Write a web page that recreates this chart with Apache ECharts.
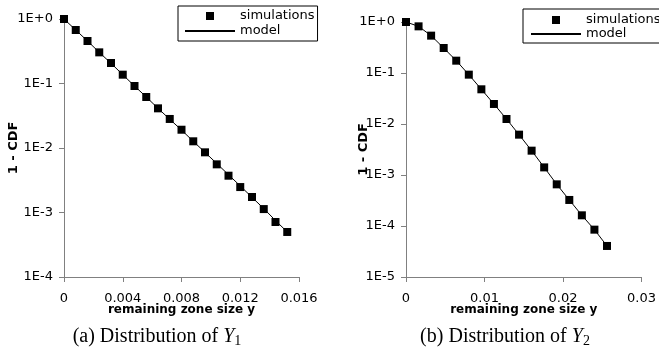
<!DOCTYPE html>
<html>
<head>
<meta charset="utf-8">
<script src="https://cdn.jsdelivr.net/npm/echarts@6/dist/echarts.min.js"></script>
<style>
html,body{margin:0;padding:0;background:#fff;}
#c{width:659px;height:362px;}
</style>
</head>
<body>
<div id="c"></div>
<script>
// ---- Data ----
const x1 = [0, 0.0008, 0.0016, 0.0024, 0.0032, 0.004, 0.0048, 0.0056, 0.0064, 0.0072,
            0.008, 0.0088, 0.0096, 0.0104, 0.0112, 0.012, 0.0128, 0.0136, 0.0144, 0.0152];
const sim1 = [1, 0.675, 0.456, 0.304, 0.208, 0.137, 0.0915, 0.0618, 0.0412, 0.0282,
              0.0192, 0.0127, 0.00857, 0.00558, 0.00372, 0.00248, 0.00174, 0.00113, 0.000713, 0.000499];
const model1 = [1, 0.675, 0.456, 0.304, 0.206, 0.137, 0.0915, 0.0618, 0.0412, 0.0279,
                0.0190, 0.0127, 0.00857, 0.00575, 0.00385, 0.00258, 0.00172, 0.00115, 0.00075, 0.000499];

const x2 = [0, 0.0016, 0.0032, 0.0048, 0.0064, 0.008, 0.0096, 0.0112, 0.0128, 0.0144,
            0.016, 0.0176, 0.0192, 0.0208, 0.0224, 0.024, 0.0256];
const sim2 = [1, 0.822, 0.54, 0.309, 0.1745, 0.0928, 0.0479, 0.0247, 0.01253, 0.00618,
              0.0030, 0.00141, 0.000656, 0.000324, 0.000162, 0.0000848, 0.0000406];
const model2 = [1, 0.822, 0.54, 0.309, 0.1745, 0.0928, 0.0479, 0.0247, 0.01253, 0.00618,
                0.0030, 0.00141, 0.000656, 0.000324, 0.000162, 0.0000848, 0.0000406];

const seriesNames = ['simulations', 'model'];
const xName = 'remaining zone size y';
const yName = '1 - CDF';
const captions = ['(a) Distribution of {it|Y}{sub|1}', '(b) Distribution of {it|Y}{sub|2}'];

// ---- Chart ----
const SANS = 'DejaVu Sans';
const AXIS = '#808080';
const chart = echarts.init(document.getElementById('c'), null, {renderer: 'canvas'});

function logFmt(v) {
  const e = Math.round(Math.log10(v));
  return '1E' + (e >= 0 ? '+' : '-') + Math.abs(e);
}
function pairs(xs, ys) { return xs.map((x, i) => [x, ys[i]]); }

function xAxis(gi, max, interval) {
  return {
    type: 'value', gridIndex: gi, min: 0, max: max, interval: interval,
    name: xName, nameLocation: 'middle', nameGap: 27, nameMoveOverlap: false,
    nameTextStyle: {fontFamily: SANS, fontWeight: 'bold', fontSize: 12, color: '#000'},
    axisLine: {onZero: false, lineStyle: {color: AXIS, width: 1}},
    axisTick: {show: true, length: 5, lineStyle: {color: AXIS}},
    axisLabel: {fontFamily: SANS, fontSize: 13, color: '#000', margin: 15},
    splitLine: {show: false}
  };
}
function yAxis(gi, min, gap, split) {
  return {
    type: 'log', logBase: 10, gridIndex: gi, min: min, max: 1, splitNumber: split,
    name: yName, nameLocation: 'middle', nameGap: gap, nameRotate: 90, nameMoveOverlap: false,
    nameTextStyle: {fontFamily: SANS, fontWeight: 'bold', fontSize: 13, color: '#000'},
    axisLine: {lineStyle: {color: AXIS, width: 1}},
    axisTick: {show: true, length: 5, lineStyle: {color: AXIS}},
    axisLabel: {fontFamily: SANS, fontSize: 13, color: '#000', margin: 11, formatter: logFmt},
    minorTick: {show: false},
    splitLine: {show: false}
  };
}
function legend(left, top, pad, gap) {
  return {
    orient: 'vertical', left: left, top: top,
    data: [
      {name: seriesNames[0]},
      {name: seriesNames[1], itemStyle: {opacity: 0}}
    ],
    itemWidth: 50, itemHeight: 10, itemGap: gap,
    padding: pad,
    borderColor: '#000', borderWidth: 1, borderRadius: 0,
    backgroundColor: '#fff',
    textStyle: {fontFamily: SANS, fontSize: 13, color: '#000', lineHeight: 14},
    selectedMode: false
  };
}
const rich = {
  it: {fontFamily: 'Liberation Serif', fontStyle: 'italic', fontSize: 20, color: '#000'},
  sub: {fontFamily: 'Liberation Serif', fontSize: 14, color: '#000', padding: [9, 0, 0, 0]}
};
function simSeries(ai, data) {
  return {name: seriesNames[0], type: 'line', xAxisIndex: ai, yAxisIndex: ai, data: data,
    symbol: 'rect', symbolSize: 8, showAllSymbol: true,
    lineStyle: {color: '#000', width: 1, opacity: 0},
    itemStyle: {color: '#000', opacity: 1}, z: 3};
}
function modelSeries(ai, data) {
  return {name: seriesNames[1], type: 'line', xAxisIndex: ai, yAxisIndex: ai, data: data,
    symbol: 'none', lineStyle: {color: '#000', width: 1}, itemStyle: {color: '#000'}, z: 2};
}

chart.setOption({
  animation: false,
  backgroundColor: '#fff',
  title: [
    {text: captions[0], left: 157, top: 325, textAlign: 'center', padding: 0,
     textStyle: {fontFamily: 'Liberation Serif', fontSize: 20, fontWeight: 'normal', color: '#000', rich: rich}},
    {text: captions[1], left: 505, top: 325, textAlign: 'center', padding: 0,
     textStyle: {fontFamily: 'Liberation Serif', fontSize: 20, fontWeight: 'normal', color: '#000', rich: rich}}
  ],
  grid: [
    {left: 64, top: 19, width: 235, height: 258},
    {left: 406, top: 22, width: 238, height: 255}
  ],
  xAxis: [xAxis(0, 0.016, 0.004), xAxis(1, 0.03, 0.01)],
  yAxis: [yAxis(0, 1e-4, 44, 4), yAxis(1, 1e-5, 36, 5)],
  legend: [legend(178, 6, [3, 3, 3, 6], 1), legend(523, 9, [4, 3, 2, 7], 0)],
  series: [
    modelSeries(0, pairs(x1, model1)),
    simSeries(0, pairs(x1, sim1)),
    modelSeries(1, pairs(x2, model2)),
    simSeries(1, pairs(x2, sim2))
  ]
});
</script>
</body>
</html>
